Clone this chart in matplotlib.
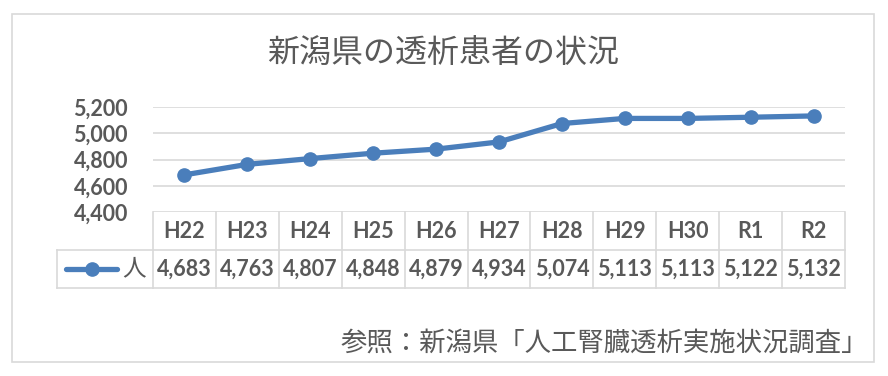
import matplotlib.pyplot as plt
from matplotlib.transforms import blended_transform_factory
from matplotlib.lines import Line2D
from matplotlib.patches import Rectangle

# data
years = ["H22", "H23", "H24", "H25", "H26", "H27", "H28", "H29", "H30", "R1", "R2"]
patients = [4683, 4763, 4807, 4848, 4879, 4934, 5074, 5113, 5113, 5122, 5132]
series_name = "人"
title = "新潟県の透析患者の状況"
source = "参照：新潟県「人工腎臓透析実施状況調査」"

blue = "#4a7ebb"
gray = "#595959"
grid = "#d9d9d9"
W, H = 888, 376

fig = plt.figure(figsize=(W / 100, H / 100), dpi=100)
num_font = ["Lato", "Noto Sans CJK JP"]
jp_font = ["Noto Sans CJK JP", "DejaVu Sans"]
num_size = 15.5

# outer chart border
fig.patches.append(Rectangle((12 / W, 14 / H), 862 / W, 348 / H, transform=fig.transFigure,
                             fill=False, edgecolor=grid, lw=1.2))

left, right, top, bottom = 153, 845, 107, 212
ax = fig.add_axes([left / W, 1 - bottom / H, (right - left) / W, (bottom - top) / H])
x = range(len(years))
ax.plot(x, patients, color=blue, lw=3.8, marker="o", ms=9.5, solid_capstyle="round")
ax.set_xlim(-0.5, len(years) - 0.5)
ax.set_ylim(4400, 5200)
ax.set_yticks([4400, 4600, 4800, 5000, 5200])
ax.set_yticklabels([f"{v:,}" for v in ax.get_yticks()])
for lbl in ax.get_yticklabels():
    lbl.set_family(num_font)
    lbl.set_fontweight("bold")
    lbl.set_fontsize(num_size)
    lbl.set_color(gray)
ax.tick_params(axis="y", length=0, pad=18)
ax.set_xticks([])
ax.grid(axis="y", color=grid, lw=1.2)
for s in ax.spines.values():
    s.set_visible(False)

# data table under the axis
row_h = 38 / (bottom - top)
tr = blended_transform_factory(ax.transData, ax.transAxes)
trf = blended_transform_factory(fig.transFigure, ax.transAxes)
def hline(y, x0, x1, t=tr):
    ax.add_line(Line2D([x0, x1], [y, y], transform=t, color=grid, lw=1.2, clip_on=False))
def vline(xv, y0, y1, t=tr):
    ax.add_line(Line2D([xv, xv], [y0, y1], transform=t, color=grid, lw=1.2, clip_on=False))

n = len(years)
hline(-row_h, -0.5, n - 0.5)
hline(-2 * row_h, -0.5, n - 0.5)
hline(-row_h, 57 / W, left / W, trf)
hline(-2 * row_h, 57 / W, left / W, trf)
vline(57 / W, -row_h, -2 * row_h, trf)
for k in range(n + 1):
    vline(k - 0.5, 0, -2 * row_h)

for i, (yr, v) in enumerate(zip(years, patients)):
    ax.text(i, -0.5 * row_h, yr, transform=tr, ha="center", va="center", family=num_font,
            fontweight="bold", fontsize=num_size, color=gray)
    ax.text(i, -1.5 * row_h, f"{v:,}", transform=tr, ha="center", va="center", family=num_font,
            fontweight="bold", fontsize=num_size, color=gray)

# legend key inside table
ax.add_line(Line2D([66 / W, 117 / W], [-1.5 * row_h] * 2, transform=trf, color=blue, lw=3.8,
                   solid_capstyle="round", clip_on=False))
ax.add_line(Line2D([92 / W], [-1.5 * row_h], transform=trf, color=blue, marker="o", ms=9.5,
                   clip_on=False))
ax.text(134 / W, -1.5 * row_h, series_name, transform=trf, ha="center", va="center",
        family=jp_font, fontsize=17, color=gray)

fig.text(443 / W, 1 - 53 / H, title, ha="center", va="center", family=jp_font, fontsize=23, color=gray)
fig.text(868 / W, 1 - 343 / H, source, ha="right", va="center", family=jp_font, fontsize=19, color=gray)

fig.savefig("out.png", dpi=100, facecolor="white")
